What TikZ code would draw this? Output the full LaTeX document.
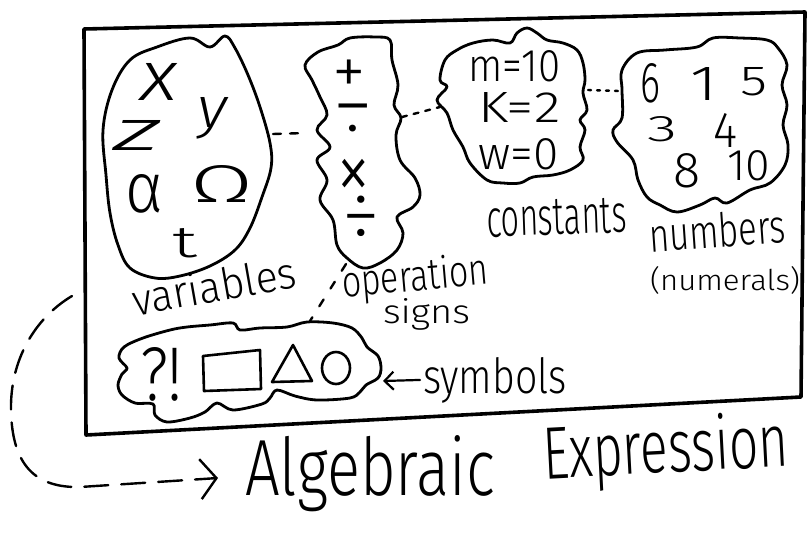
\documentclass[tikz,border=0pt]{standalone}
\usepackage{fontspec}
\IfFontExistsTF{Fira Sans Light}{\setmainfont{Fira Sans Light}}{\setmainfont{Fira Sans}}
\usetikzlibrary{arrows.meta}
\newcommand\fb[3]{\resizebox{#1pt}{#2pt}{#3}}
\newcommand\fz[2]{\fontsize{#1pt}{#1pt}\selectfont #2}
% centred item: x shift (twice the offset), raise, size, glyph
\newcommand\opat[4]{\raisebox{#2}[0pt][0pt]{\makebox[0pt]{\hspace*{#1}\fz{#3}{#4}}}}
% left-aligned item: x offset, raise, content
\newcommand\lat[3]{\raisebox{#2}[0pt][0pt]{\makebox[0pt][l]{\hspace*{#1}#3}}}
\begin{document}
\begin{tikzpicture}[x=1pt,y=-1pt, line cap=round, line join=round,
  blob/.style={draw, line width=2.8pt},
  frame/.style={draw, line width=3.6pt},
  hand/.style={inner sep=0pt, outer sep=0pt, anchor=base west},
  opsym/.style={inner sep=0pt, outer sep=0pt, anchor=base},
  dotline/.style={line width=2.4pt, dash pattern=on 8pt off 9pt},
  dashline/.style={line width=2.4pt, dash pattern=on 24pt off 13pt},
]
\useasboundingbox (0,0) rectangle (810,549);
\fill[white] (0,0) rectangle (810,549);

% frame
\draw[frame] (84,29) -- (805,12) -- (801,397) -- (86,435) -- cycle;

% variables blob
\draw[blob] plot[smooth cycle, tension=0.6] coordinates {
 (157,47) (190,38) (210,47) (225,36) (235,48) (248,75) (260,107) (270,143)
 (271,168) (262,197) (250,228) (235,250) (210,266) (180,276) (155,278)
 (130,268) (118,245) (110,213) (106,175) (103,130) (112,90) (130,60)};
\node[hand] (vars) at (140,100) {%
  \lat{0pt}{0pt}{\fb{37}{37}{\itshape x}}%
  \lat{57pt}{-27pt}{\fb{30}{30}{\itshape y}}%
  \lat{-27pt}{-50pt}{\fb{47}{30}{\itshape z}}%
  \lat{-15pt}{-112pt}{\fb{38}{38}{α}}%
  \lat{50pt}{-102pt}{\fb{63}{37}{Ω}}%
  \lat{32pt}{-157pt}{\fb{25}{29}{t}}};
\node[hand, rotate=10] (varl) at (135,316) {\fb{166}{33}{variables}};

% operation signs blob
\draw[blob] plot[smooth cycle, tension=0.6] coordinates {
 (305,65) (318,52) (338,45) (350,38) (375,37) (390,40)
 (392,60) (398,85) (394,105) (401,118) (396,135) (400,160) (415,178)
 (420,195) (413,207) (397,217) (403,233) (397,250) (380,263)
 (363,268) (347,258) (337,245) (333,220) (320,200) (327,180) (317,160)
 (330,147) (317,130) (327,115) (320,97) (312,80)};
\node[opsym] (ops) at (353,94) {%
  \opat{-8pt}{0pt}{68}{+}%
  \opat{0pt}{-38pt}{80}{−}%
  \opat{0pt}{-57pt}{72}{·}%
  \opat{2pt}{-106pt}{70}{\scalebox{1}[1.25]{×}}%
  \opat{16pt}{-147pt}{76}{÷}};
\node[hand, rotate=5] (opl) at (343,297) {\fb{147}{33}{operation}};
\node[hand] (sigl) at (383,323) {\fb{87}{25}{signs}};

% constants blob
\draw[blob] plot[smooth cycle, tension=0.6] coordinates {
 (457,50) (473,43) (493,40) (510,43) (517,33) (527,28) (537,33) (547,40)
 (563,43) (577,50) (583,63) (585,80) (583,93) (587,110) (580,120)
 (585,130) (580,147) (583,160) (570,170) (553,175) (533,177) (520,183)
 (503,183) (487,180) (470,163) (463,147) (453,130) (447,113) (437,100)
 (447,87) (440,80) (445,60)};
\node[hand] (cons) at (468,81) {%
  \lat{0pt}{0pt}{\fb{92}{31}{m=10}}%
  \lat{10pt}{-41pt}{\fb{82}{30}{K=2}}%
  \lat{10pt}{-88pt}{\fb{80}{31}{w=0}}};
\node[hand, rotate=2] (conl) at (487,237) {\fb{140}{35}{constants}};

% numbers blob
\draw[blob] plot[smooth cycle, tension=0.6] coordinates {
 (637,53) (665,50) (697,47) (713,38) (740,38) (767,40) (778,48) (787,65)
 (782,85) (787,105) (783,125) (788,145) (785,165) (770,183) (750,190)
 (727,203) (715,198) (700,205) (677,212) (660,205) (647,197) (638,180)
 (633,160) (617,142) (613,130) (622,118) (622,90) (622,70)};
\node[hand] (nums) at (640,102) {%
  \lat{0pt}{0pt}{\fb{20}{39}{6}}%
  \lat{50pt}{2pt}{\fb{27}{33}{1}}%
  \lat{100pt}{7pt}{\fb{27}{28}{5}}%
  \lat{7pt}{-39pt}{\fb{30}{25}{3}}%
  \lat{73pt}{-45pt}{\fb{24}{34}{4}}%
  \lat{33pt}{-85pt}{\fb{27}{34}{8}}%
  \lat{87pt}{-78pt}{\fb{43}{30}{10}}};
\node[hand, rotate=4] (numl) at (650,252) {\fb{137}{35}{numbers}};
\node[hand] (numl2) at (650,290) {\fb{150}{24}{(numerals)}};

% symbols cloud
\draw[blob] plot[smooth cycle, tension=0.55] coordinates {
 (143,338) (170,330) (187,327) (210,325) (233,323) (240,330) (260,328)
 (287,327) (307,322) (333,323) (352,328) (362,338) (367,347) (378,356)
 (381,368) (378,378) (366,385) (360,392) (350,398) (317,400) (295,396)
 (277,390) (270,398) (262,404) (233,410) (217,403) (205,412) (190,418)
 (167,422) (155,415) (153,404) (135,403) (122,395) (118,385) (122,374)
 (127,368) (119,358) (124,347)};
\node[hand] (qe) at (140,400) {\fb{43}{53}{?!}};
\draw[line width=2.6pt] (203,356) -- (260,350) -- (261,389) -- (204,391) -- cycle;
\draw[line width=2.6pt] (293,345) -- (312,381) -- (272,382) -- cycle;
\draw[line width=2.6pt] (336,368) ellipse [x radius=14, y radius=16];
\node[hand] (syml) at (423,393) {\fb{144}{36}{symbols}};

% connectors between groups
\coordinate (varE) at (273,134); \coordinate (opW) at (306,133);
\coordinate (opE) at (402,117); \coordinate (conW) at (440,107);
\coordinate (conE) at (588,90); \coordinate (numW) at (619,91);
\coordinate (opS) at (346,264); \coordinate (symN) at (310,321);
\coordinate (symE) at (383,381);
\draw[dotline] (varE) -- (opW);
\draw[line width=2.4pt, dash pattern=on 5pt off 7pt] (opE) -- (conW);
\draw[line width=2.4pt, dash pattern=on 3pt off 6pt] (conE) -- (numW);
\draw[line width=2.4pt, dash pattern=on 8pt off 13pt] (opS) -- (symN);
\draw[line width=2.2pt, -{Straight Barb[length=9pt,width=18pt]}]
  ([xshift=-3pt]syml.west) -- (symE);

% title
\node[hand] (alg) at (245,495) {\fb{250}{60}{Algebraic}};
\node[hand, rotate=3] (expr) at (544,479) {\fb{246}{56}{Expression}};
\coordinate (dstart) at (72,296);
\draw[dashline, -{Straight Barb[length=16pt,width=40pt,line width=2.4pt]}]
  (dstart) .. controls (35,318) and (10,360) .. (11,410)
  .. controls (12,465) and (35,488) .. (80,487)
  -- ([xshift=-27pt,yshift=17pt]alg.base west);
\end{tikzpicture}
\end{document}
